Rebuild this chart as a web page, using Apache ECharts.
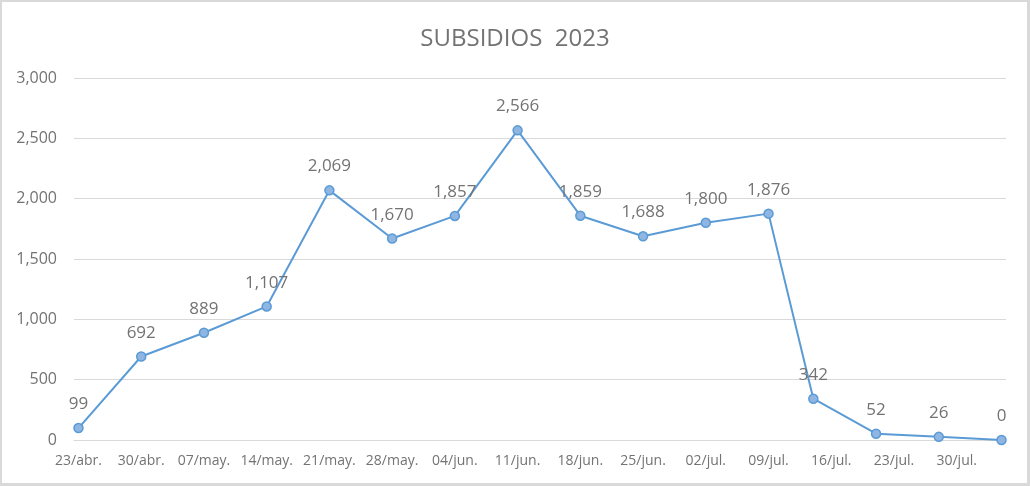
<!DOCTYPE html>
<html>
<head>
<meta charset="utf-8">
<script src="https://cdn.jsdelivr.net/npm/echarts@6/dist/echarts.min.js"></script>
<style>
    html, body { margin: 0; padding: 0; background: #fff; }
    #wrap { position: relative; width: 1030px; height: 486px; }
    #chart { position: absolute; left: 0; top: 0; width: 1030px; height: 486px; }
    #frame {
        position: absolute; left: 0; top: 0; width: 1030px; height: 486px;
        box-sizing: border-box; pointer-events: none;
        border-style: solid; border-color: #d9d9d9;
        border-width: 2px 3px 3px 2px;
    }
</style>
</head>
<body>
<div id="wrap">
    <div id="chart"></div>
    <div id="frame"></div>
</div>
<script>
// fechas de cada punto (eje de fechas, como en Excel)
const pointDates = ['2023-04-23', '2023-04-30', '2023-05-07', '2023-05-14', '2023-05-21', '2023-05-28',
    '2023-06-04', '2023-06-11', '2023-06-18', '2023-06-25', '2023-07-02', '2023-07-09',
    '2023-07-14', '2023-07-21', '2023-07-28', '2023-08-04']
const subsidios = [99, 692, 889, 1107, 2069, 1670, 1857, 2566, 1859, 1688, 1800, 1876, 342, 52, 26, 0]
// etiquetas semanales del eje x
const tickLabels = ['23/abr.', '30/abr.', '07/may.', '14/may.', '21/may.', '28/may.', '04/jun.',
    '11/jun.', '18/jun.', '25/jun.', '02/jul.', '09/jul.', '16/jul.', '23/jul.', '30/jul.']

const DAY = 86400000
const start = Date.parse(pointDates[0])
const dayOf = d => Math.round((Date.parse(d) - start) / DAY)
const seriesData = pointDates.map((d, i) => [dayOf(d), subsidios[i]])
const tickDays = tickLabels.map((t, i) => i * 7)
const fmt = v => Number(v).toLocaleString('en-US')
const font = "'Open Sans', sans-serif"
const textGrey = '#737373'

const chart = echarts.init(document.getElementById('chart'))
chart.setOption({
    animation: false,
    title: {
        text: 'SUBSIDIOS  2023',
        left: 'center',
        top: 22,
        textStyle: { fontFamily: font, fontSize: 24, fontWeight: 'normal', color: textGrey }
    },
    grid: { left: 74, right: 24, top: 78, bottom: 46, containLabel: false },
    xAxis: {
        type: 'value',
        min: -0.5,
        max: dayOf(pointDates[pointDates.length - 1]) + 0.5,
        splitLine: { show: false },
        axisTick: { show: false },
        axisLine: { show: true, lineStyle: { color: '#d9d9d9', width: 1 } },
        axisLabel: {
            customValues: tickDays,
            formatter: v => tickLabels[Math.round(v / 7)] || '',
            margin: 14,
            fontFamily: font,
            fontSize: 14,
            color: textGrey
        }
    },
    yAxis: {
        type: 'value',
        min: 0,
        max: 3000,
        interval: 500,
        axisLine: { show: false },
        axisTick: { show: false },
        splitLine: { lineStyle: { color: '#d9d9d9', width: 1 } },
        axisLabel: {
            formatter: fmt,
            margin: 17,
            fontFamily: font,
            fontSize: 16,
            color: textGrey
        }
    },
    series: [{
        type: 'line',
        data: seriesData,
        symbol: 'circle',
        symbolSize: 9,
        lineStyle: { color: '#5b9bd5', width: 2 },
        itemStyle: { color: '#8fb6e3', borderColor: '#5b9bd5', borderWidth: 1.5 },
        label: {
            show: true,
            position: 'top',
            distance: 10,
            formatter: p => fmt(p.value[1]),
            fontFamily: font,
            fontSize: 17,
            color: textGrey
        }
    }]
})
</script>
</body>
</html>
